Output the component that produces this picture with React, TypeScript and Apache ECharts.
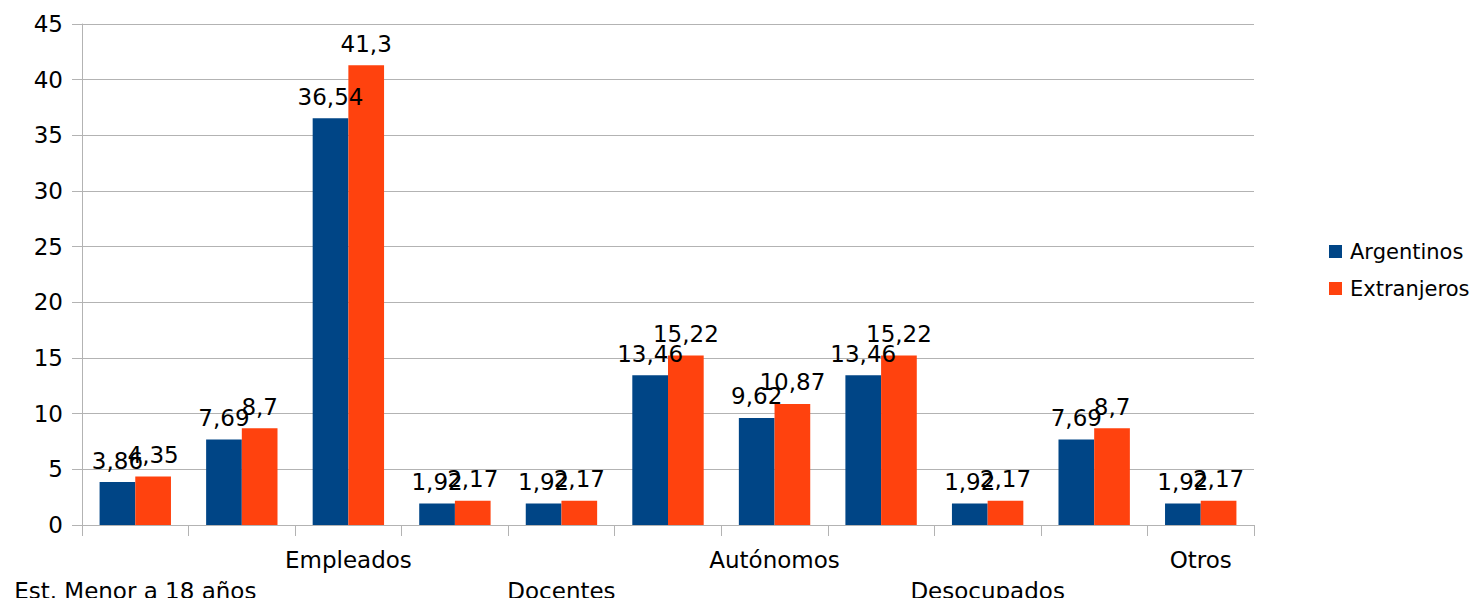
import React, { useEffect, useRef } from "react";
import * as echarts from "echarts";

const categories = [
  "Est. Menor a 18 años",
  "",
  "Empleados",
  "",
  "Docentes",
  "",
  "Autónomos",
  "",
  "Desocupados",
  "",
  "Otros",
];
const argentinos = [3.86, 7.69, 36.54, 1.92, 1.92, 13.46, 9.62, 13.46, 1.92, 7.69, 1.92];
const extranjeros = [4.35, 8.7, 41.3, 2.17, 2.17, 15.22, 10.87, 15.22, 2.17, 8.7, 2.17];
const seriesNames = ["Argentinos", "Extranjeros"];
const colors = ["#004586", "#ff420e"];

const FONT = "DejaVu Sans";
const FS = 23;

export default function App() {
  const ref = useRef<HTMLDivElement>(null);
  useEffect(() => {
    if (!ref.current) return;
    const chart = echarts.init(ref.current, undefined, { renderer: "svg" });
    const labelCfg = {
      show: true,
      position: "top",
      distance: 10,
      color: "#000",
      fontFamily: FONT,
      fontSize: FS,
      formatter: (p: any) => String(p.value).replace(".", ","),
    };
    chart.setOption({
      animation: false,
      textStyle: { fontFamily: FONT },
      grid: { left: 82, right: 228, top: 24, bottom: 80, containLabel: false },
      legend: {
        orient: "vertical",
        left: 1324,
        top: 236,
        itemWidth: 13,
        itemHeight: 13,
        itemGap: 16,
        icon: "rect",
        textStyle: { fontFamily: FONT, fontSize: 21, color: "#000", padding: [0, 0, 0, 3] },
        data: seriesNames,
      },
      xAxis: {
        type: "category",
        data: categories,
        axisLine: { lineStyle: { color: "#b3b3b3" } },
        axisTick: { show: true, length: 11, alignWithLabel: false, lineStyle: { color: "#b3b3b3" } },
        axisLabel: {
          interval: 0,
          margin: 19,
          color: "#000",
          fontFamily: FONT,
          fontSize: FS,
          lineHeight: 31,
          formatter: (v: string, i: number) => (i % 4 === 0 ? "\n" + v : v),
        },
      },
      yAxis: {
        type: "value",
        min: 0,
        max: 45,
        interval: 5,
        axisLine: { show: true, lineStyle: { color: "#b3b3b3" } },
        axisTick: { show: true, length: 10, lineStyle: { color: "#b3b3b3" } },
        splitLine: { lineStyle: { color: "#b3b3b3" } },
        axisLabel: { margin: 19, color: "#000", fontFamily: FONT, fontSize: FS },
      },
      series: [
        {
          name: seriesNames[0],
          type: "bar",
          data: argentinos,
          itemStyle: { color: colors[0] },
          barGap: "0%",
          barCategoryGap: "33%",
          label: labelCfg,
        },
        {
          name: seriesNames[1],
          type: "bar",
          data: extranjeros,
          itemStyle: { color: colors[1] },
          barGap: "0%",
          barCategoryGap: "33%",
          label: labelCfg,
        },
      ],
    });
    return () => chart.dispose();
  }, []);
  return <div ref={ref} style={{ width: 1482, height: 606, margin: -8 }} />;
}
